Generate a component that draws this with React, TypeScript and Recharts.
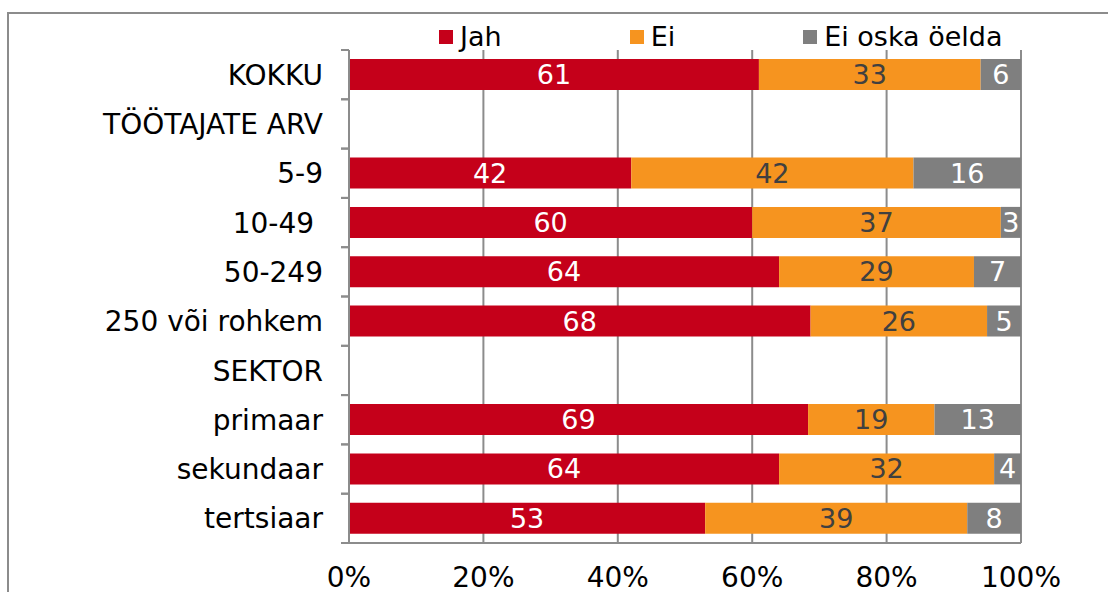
import React from "react";
import {
  BarChart,
  Bar,
  XAxis,
  YAxis,
  CartesianGrid,
  LabelList,
  Legend,
} from "recharts";

const categories = [
  "KOKKU",
  "TÖÖTAJATE ARV",
  "5-9",
  "10-49\u00a0",
  "50-249",
  "250 või rohkem",
  "SEKTOR",
  "primaar",
  "sekundaar",
  "tertsiaar",
];
const jah = [61, null, 42, 60, 64, 68, null, 69, 64, 53];
const ei = [33, null, 42, 37, 29, 26, null, 19, 32, 39];
const eiOska = [6, null, 16, 3, 7, 5, null, 13, 4, 8];
const xTicks = [0, 0.2, 0.4, 0.6, 0.8, 1];

const series = [
  { key: "jah", name: "Jah", color: "#c5001a", label: "#ffffff" },
  { key: "ei", name: "Ei", color: "#f6941f", label: "#404040" },
  { key: "eiOska", name: "Ei oska öelda", color: "#7f7f7f", label: "#ffffff" },
];

const data = categories.map((name, i) => ({
  name,
  jah: jah[i],
  ei: ei[i],
  eiOska: eiOska[i],
}));

const FONT = "'DejaVu Sans', Verdana, sans-serif";
const FS = 27;
const CAT_FS = 28;
const AXIS = "#8c8c8c";
const TICK_SIZE = 8;
const TICK_MARGIN = 18;

function CategoryTick(props: any) {
  const { x, y, payload } = props;
  const half = payload.offset || 24.65;
  const x1 = x + TICK_MARGIN;
  const x2 = x1 + TICK_SIZE;
  return (
    <g>
      <line x1={x1} x2={x2} y1={y - half} y2={y - half} stroke={AXIS} strokeWidth={2} />
      <line x1={x1} x2={x2} y1={y + half} y2={y + half} stroke={AXIS} strokeWidth={2} />
      <text
        x={x}
        y={y}
        dy="0.36em"
        textAnchor="end"
        fill="#000"
        fontSize={CAT_FS}
        fontFamily={FONT}
        style={{ whiteSpace: "pre" }}
      >
        {payload.value}
      </text>
    </g>
  );
}

function LegendContent() {
  return (
    <div
      style={{
        display: "flex",
        whiteSpace: "nowrap",
        fontFamily: FONT,
        fontSize: FS,
        color: "#000",
        lineHeight: "32px",
        height: 32,
      }}
    >
      {series.map((s) => (
        <div key={s.key} style={{ display: "flex", alignItems: "center", marginRight: 128, flexShrink: 0 }}>
          <span style={{ width: 14, height: 14, background: s.color, marginRight: 7, display: "inline-block" }} />
          <span>{s.name}</span>
        </div>
      ))}
    </div>
  );
}

export default function App() {
  return (
    <div style={{ position: "absolute", left: 0, top: 0, width: 1108, height: 592, overflow: "hidden", background: "#fff" }}>
      <div
        style={{
          position: "absolute",
          left: 7,
          top: 12,
          width: 1300,
          height: 800,
          border: "2px solid #8c8c8c",
        }}
      />
      <div style={{ position: "absolute", left: 0, top: 0 }}>
        <BarChart
          width={1108}
          height={592}
          data={data}
          layout="vertical"
          stackOffset="expand"
          barSize={31}
          margin={{ top: 50, right: 87, bottom: 0, left: 0 }}
        >
          <CartesianGrid horizontal={false} stroke={AXIS} strokeWidth={2} verticalValues={xTicks} />
          <XAxis
            type="number"
            domain={[0, 1]}
            ticks={xTicks}
            tickFormatter={(v: number) => `${Math.round(v * 100)}%`}
            height={49}
            axisLine={{ stroke: AXIS, strokeWidth: 2 }}
            tickLine={false}
            tickSize={6}
            tickMargin={18}
            tick={{ fill: "#000", fontSize: CAT_FS, fontFamily: FONT }}
            allowDataOverflow
          />
          <XAxis
            xAxisId="top"
            orientation="top"
            type="number"
            domain={[0, 1]}
            height={0}
            tick={false}
            tickLine={false}
            axisLine={{ stroke: AXIS, strokeWidth: 2 }}
          />
          <YAxis
            type="category"
            dataKey="name"
            width={349}
            interval={0}
            axisLine={{ stroke: AXIS, strokeWidth: 2 }}
            tickLine={false}
            tickSize={TICK_SIZE}
            tickMargin={TICK_MARGIN}
            tick={<CategoryTick />}
          />
          <Legend
            verticalAlign="middle"
            align="center"
            layout="horizontal"
            content={<LegendContent />}
            wrapperStyle={{ position: "absolute", top: 21, left: 439, width: 700, height: 32, margin: 0 }}
          />
          {series.map((s) => (
            <Bar key={s.key} dataKey={s.key} name={s.name} stackId="a" fill={s.color} isAnimationActive={false}>
              <LabelList
                dataKey={s.key}
                position="center"
                fill={s.label}
                fontSize={FS}
                fontFamily={FONT}
                formatter={(v: any) => (v == null ? "" : v)}
              />
            </Bar>
          ))}
        </BarChart>
      </div>
    </div>
  );
}
